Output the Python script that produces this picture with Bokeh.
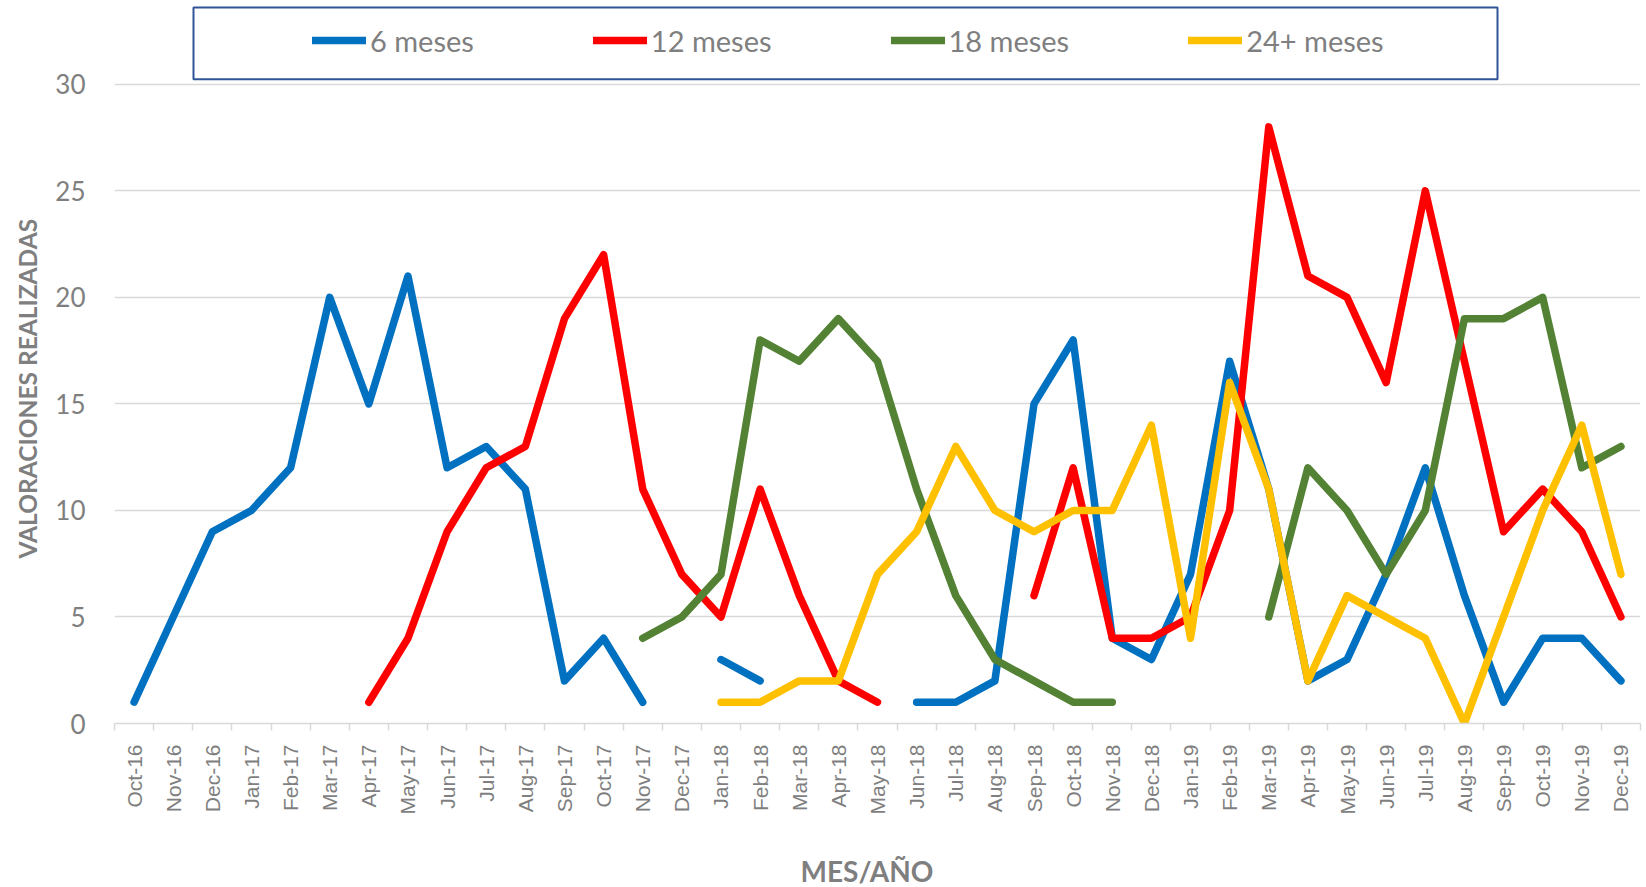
import math
from bokeh.plotting import figure
from bokeh.models import FixedTicker, Legend, LegendItem, BoxAnnotation, Range1d, Title
from bokeh.embed import file_html
from bokeh.resources import INLINE

nan = float("nan")

months = ["Oct-16", "Nov-16", "Dec-16",
          "Jan-17", "Feb-17", "Mar-17", "Apr-17", "May-17", "Jun-17",
          "Jul-17", "Aug-17", "Sep-17", "Oct-17", "Nov-17", "Dec-17",
          "Jan-18", "Feb-18", "Mar-18", "Apr-18", "May-18", "Jun-18",
          "Jul-18", "Aug-18", "Sep-18", "Oct-18", "Nov-18", "Dec-18",
          "Jan-19", "Feb-19", "Mar-19", "Apr-19", "May-19", "Jun-19",
          "Jul-19", "Aug-19", "Sep-19", "Oct-19", "Nov-19", "Dec-19"]

m6 = [1, 5, 9, 10, 12, 20, 15, 21, 12, 13, 11, 2, 4, 1, nan,
      3, 2, nan, nan, nan, 1, 1, 2, 15, 18, 4, 3,
      7, 17, 11, 2, 3, 7, 12, 6, 1, 4, 4, 2]
m12 = [nan, nan, nan, nan, nan, nan,
       1, 4, 9, 12, 13, 19, 22, 11, 7,
       5, 11, 6, 2, 1, nan, nan, nan, 6, 12, 4, 4,
       5, 10, 28, 21, 20, 16, 25, 17, 9, 11, 9, 5]
m18 = [nan, nan, nan, nan, nan, nan, nan, nan, nan, nan, nan, nan, nan,
       4, 5, 7, 18, 17, 19, 17, 11, 6, 3, 2, 1, 1,
       nan, nan, nan, 5, 12, 10, 7, 10, 19, 19, 20, 12, 13]
m24 = [nan] * 15 + [1, 1, 2, 2, 7, 9, 13, 10, 9, 10, 10, 14,
                    4, 16, 11, 2, 6, 5, 4, 0, 5, 10, 14, 7]

series_names = ["6 meses", "12 meses", "18 meses", "24+ meses"]
series_values = [m6, m12, m18, m24]
series_colors = ["#0070C0", "#FF0000", "#548235", "#FFC000"]

y_ticks = [0, 5, 10, 15, 20, 25, 30]
x_title = "MES/AÑO"
y_title = "VALORACIONES REALIZADAS"

W, H = 1646, 887
FRAME_LEFT, FRAME_RIGHT_PAD, FRAME_BOTTOM_PAD = 114, 6, 162
frame_h = H - FRAME_BOTTOM_PAD            # frame from canvas y=0 to frame_h
Y30 = 84                                  # canvas y of the 30 gridline
px_per_unit = (frame_h - Y30) / 30.0
y_top = 30 + Y30 / px_per_unit

GRAY = "#7F7F7F"
SANS = "Lato"

x = list(range(len(months)))

p = figure(width=W, height=H, output_backend="svg", toolbar_location=None,
           x_range=Range1d(-0.5, len(months) - 0.5), y_range=Range1d(0, y_top),
           min_border_left=FRAME_LEFT, min_border_right=FRAME_RIGHT_PAD,
           min_border_top=0, min_border_bottom=FRAME_BOTTOM_PAD)
p.outline_line_color = None
p.background_fill_color = "white"
p.border_fill_color = "white"

renderers = []
for name, vals, col in zip(series_names, series_values, series_colors):
    r = p.line(x, vals, line_color=col, line_width=7.5,
               line_cap="round", line_join="round")
    renderers.append(r)

# axes
xa = p.xaxis[0]
xa.ticker = FixedTicker(ticks=x, minor_ticks=[i - 0.5 for i in range(len(months) + 1)])
xa.major_label_overrides = {i: m for i, m in enumerate(months)}
xa.major_label_orientation = math.pi / 2
xa.major_tick_line_color = None
xa.minor_tick_line_color = "#D9D9D9"
xa.minor_tick_line_width = 1.5
xa.minor_tick_out = 7
xa.minor_tick_in = 0
xa.axis_line_color = "#D9D9D9"
xa.axis_line_width = 1.5
xa.major_label_text_font = "Liberation Sans"
xa.major_label_text_font_size = "21px"
xa.major_label_text_color = GRAY
xa.major_label_standoff = 14

ya = p.yaxis[0]
ya.ticker = FixedTicker(ticks=y_ticks)
ya.axis_line_color = None
ya.major_tick_line_color = None
ya.minor_tick_line_color = None
ya.major_label_text_font = SANS
ya.major_label_text_font_size = "26px"
ya.major_label_text_color = GRAY
ya.major_label_standoff = 23

p.xgrid.grid_line_color = None
p.ygrid.ticker = FixedTicker(ticks=y_ticks)
p.ygrid.grid_line_color = "#D9D9D9"
p.ygrid.grid_line_width = 1.5

# axis titles (a thin spacer pushes the x title toward the bottom edge)
p.add_layout(Title(text=" ", standoff=31, text_font=SANS, text_font_size="1px"), "below")
p.add_layout(Title(text=x_title, align="left", offset=686, standoff=0,
                   text_font=SANS, text_font_style="bold", text_font_size="28px",
                   text_color=GRAY), "below")
p.add_layout(Title(text=y_title, align="left", offset=165, standoff=21,
                   text_font=SANS, text_font_style="bold", text_font_size="24.5px",
                   text_color=GRAY), "left")

# legend frame box (outside the 0-30 area, above the plot)
cat_px = (W - FRAME_LEFT - FRAME_RIGHT_PAD) / len(months)
def xd(px_from_frame_left):
    return -0.5 + px_from_frame_left / cat_px
def yd(canvas_y):
    return y_top - canvas_y / px_per_unit

box = BoxAnnotation(left=xd(79), right=xd(1383), top=yd(7), bottom=yd(79),
                    fill_alpha=0, fill_color=None,
                    line_color="#2F5597", line_width=2, line_alpha=1)
p.add_layout(box)

legend = Legend(items=[LegendItem(label=n, renderers=[r]) for n, r in zip(series_names, renderers)],
                orientation="horizontal",
                location=(198, frame_h - 60),
                border_line_color=None, background_fill_alpha=0,
                padding=0, margin=0, spacing=119,
                glyph_width=54, glyph_height=36, label_height=36,
                label_standoff=4,
                label_text_font=SANS, label_text_font_size="29px",
                label_text_color=GRAY, label_text_baseline="middle")
p.add_layout(legend, "center")

open("out.html", "w").write(file_html(p, INLINE))
